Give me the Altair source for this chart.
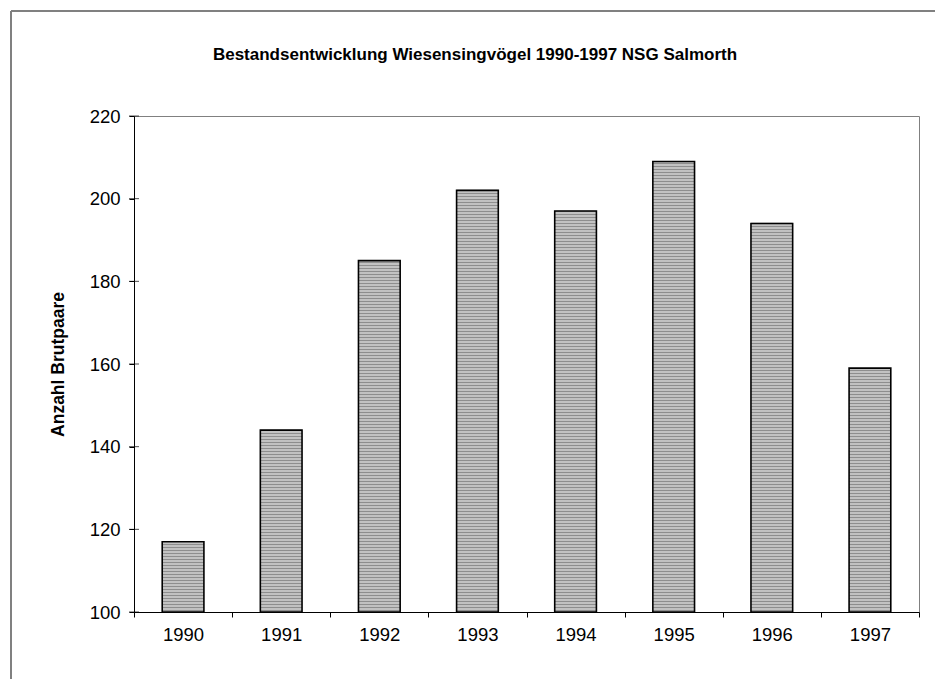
import altair as alt
import pandas as pd

years = ["1990", "1991", "1992", "1993", "1994", "1995", "1996", "1997"]
pairs = [117, 144, 185, 202, 197, 209, 194, 159]
y_ticks = [100, 120, 140, 160, 180, 200, 220]
title_text = "Bestandsentwicklung Wiesensingvögel 1990-1997 NSG Salmorth"

W, H = 785, 496
Y_MIN, Y_MAX = 100, 220
FONT = "Liberation Sans"
STEP = (Y_MAX - Y_MIN) / H * 3  # hatch spacing of 3 px, in data units
BAR_BAND = 0.425
BAR_PX = W / len(years) * BAR_BAND

df = pd.DataFrame({"Jahr": years, "Brutpaare": pairs})

x_enc = alt.X(
    "Jahr:N", sort=years,
    scale=alt.Scale(paddingInner=0, paddingOuter=0),
    axis=alt.Axis(title=None, labelAngle=0, tickBand="extent", tickSize=5,
                  labelPadding=8, labelFontSize=18.5, labelFont=FONT,
                  domainColor="black", tickColor="black", labelColor="black"),
)
y_scale = alt.Scale(domain=[Y_MIN, Y_MAX], nice=False, zero=False)
y_enc = alt.Y(
    "Brutpaare:Q", scale=y_scale,
    axis=alt.Axis(values=y_ticks, title="Anzahl Brutpaare", grid=False,
                  tickSize=5, labelPadding=9, labelFontSize=18.5, labelFont=FONT,
                  titleFont=FONT, titleFontSize=17.5, titleFontWeight="bold",
                  titlePadding=22, titleColor="black",
                  domainColor="black", tickColor="black", labelColor="black"),
)

base = alt.Chart(df)

bars_fill = base.mark_bar(fill="#d4d4d4", width=alt.RelativeBandSize(BAR_BAND)).encode(
    x=x_enc, y=y_enc, y2=alt.datum(Y_MIN)
)

hatch = (
    base.transform_calculate(h=f"sequence({Y_MIN} + {STEP}/2, datum.Brutpaare, {STEP})")
    .transform_flatten(["h"])
    .mark_tick(color="#707070", orient="horizontal", size=BAR_PX, thickness=1.3)
    .encode(x=alt.X("Jahr:N", sort=years), y=alt.Y("h:Q", scale=y_scale))
)

bars_edge = base.mark_bar(fill=None, stroke="black", strokeWidth=1.6,
                          width=alt.RelativeBandSize(BAR_BAND)).encode(
    x=alt.X("Jahr:N", sort=years), y=alt.Y("Brutpaare:Q", scale=y_scale), y2=alt.datum(Y_MIN)
)

tick_df = pd.DataFrame({"Brutpaare": y_ticks})
ytick_layer = alt.Chart(tick_df).mark_tick(color="black", size=10, thickness=1, orient="horizontal").encode(
    y=alt.Y("Brutpaare:Q", scale=y_scale), x=alt.value(0)
)

one = alt.Data(values=[{"a": 1}])
border_top = alt.Chart(one).mark_rule(color="#808080", strokeWidth=2).encode(
    x=alt.value(-123), x2=alt.value(W + 40), y=alt.value(-105)
)
border_left = alt.Chart(one).mark_rule(color="#808080", strokeWidth=2).encode(
    x=alt.value(-123), y=alt.value(-105), y2=alt.value(H + 80)
)
title_mark = alt.Chart(one).mark_text(
    font=FONT, fontSize=17, fontWeight="bold", color="black",
    align="center", baseline="middle",
).encode(x=alt.value(341), y=alt.value(-61), text=alt.value(title_text))

chart = alt.layer(bars_fill, hatch, bars_edge, ytick_layer, border_top, border_left, title_mark).properties(
    width=W, height=H,
    padding={"left": 134, "top": 116, "right": 16, "bottom": 67},
    autosize=alt.AutoSizeParams(type="none"),
    background="white",
).configure_view(stroke="#808080", strokeWidth=1)

chart.save("out.html", embed_options={"renderer": "svg", "actions": False})
